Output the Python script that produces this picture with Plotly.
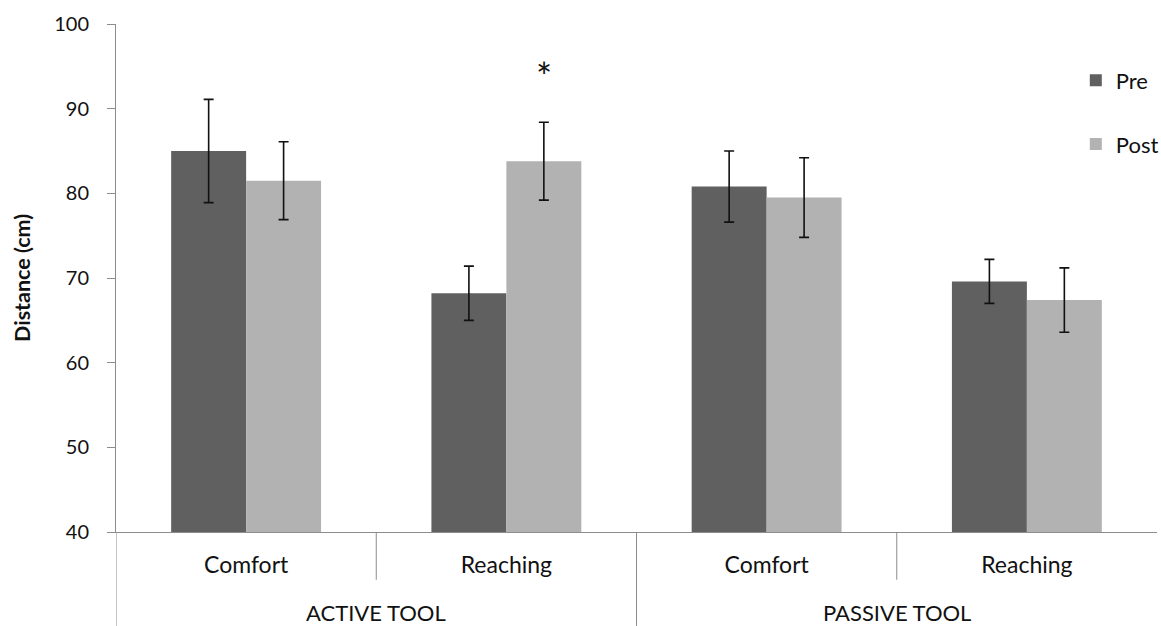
import plotly.graph_objects as go

# Reach / comfort distance by tool condition, before and after tool use
groups = ["ACTIVE TOOL", "PASSIVE TOOL"]
tasks = ["Comfort", "Reaching", "Comfort", "Reaching"]
pre_mean = [85.0, 68.2, 80.8, 69.6]
pre_err = [6.1, 3.2, 4.2, 2.6]
post_mean = [81.5, 83.8, 79.5, 67.4]
post_err = [4.6, 4.6, 4.7, 3.8]
y_ticks = [40, 50, 60, 70, 80, 90, 100]

FONT = "Lato"
TXT = "#111111"
AXIS = "#8c8c8c"
BARGAP = 0.424

xpos = list(range(len(tasks)))

fig = go.Figure()
fig.add_trace(go.Bar(
    name="Pre", x=xpos, y=pre_mean, legendgroup="pre",
    marker=dict(color="#606060", line=dict(width=0)),
    error_y=dict(type="data", array=pre_err, visible=True,
                 color="#111111", thickness=1.6, width=5),
))
fig.add_trace(go.Bar(
    name="Post", x=xpos, y=post_mean, legendgroup="post",
    marker=dict(color="#b2b2b2", line=dict(width=0)),
    error_y=dict(type="data", array=post_err, visible=True,
                 color="#111111", thickness=1.6, width=5),
))

# dividers below the category axis
shapes = []
for i in range(len(tasks) - 1):
    xb = i + 0.5
    full = (i + 1) % 2 == 0
    shapes.append(dict(type="line", xref="x", yref="paper", x0=xb, x1=xb,
                       y0=0, y1=-0.185 if full else -0.094,
                       line=dict(color=AXIS, width=1)))
shapes.append(dict(type="line", xref="x", yref="paper", x0=-0.5, x1=-0.5,
                   y0=0, y1=-0.185, line=dict(color=AXIS, width=1)))

annotations = []
for g, name in enumerate(groups):
    annotations.append(dict(text=name, x=2 * g + 0.5, xref="x", y=0, yref="paper",
                            yshift=-80, showarrow=False, yanchor="middle",
                            font=dict(family=FONT, size=22, color=TXT)))

# significance marker over the active-tool reaching post bar
sig = 1
annotations.append(dict(text="*", x=sig + (1 - BARGAP) / 4, xref="x",
                        y=post_mean[sig] + post_err[sig] + 5.4, yref="y",
                        showarrow=False, yanchor="middle",
                        font=dict(family=FONT, size=38, color=TXT)))

annotations.append(dict(text="<b>Distance (cm)</b>", textangle=-90,
                        x=-0.0903, xref="paper", y=0.5, yref="paper",
                        showarrow=False, xanchor="center", yanchor="middle",
                        font=dict(family=FONT, size=21.5, color=TXT)))

fig.update_layout(
    width=1161, height=626,
    margin=dict(l=116, r=4, t=24, b=94, autoexpand=False),
    paper_bgcolor="white", plot_bgcolor="white",
    barmode="group", bargap=BARGAP, bargroupgap=0,
    font=dict(family=FONT, size=22, color=TXT),
    showlegend=True,
    legend=dict(x=0.922, y=0.93, xanchor="left", yanchor="top",
                traceorder="grouped", tracegroupgap=32,
                font=dict(family=FONT, size=22, color=TXT),
                bgcolor="rgba(0,0,0,0)"),
    shapes=shapes, annotations=annotations,
    xaxis=dict(range=[-0.5, 3.5], tickvals=xpos, ticktext=tasks,
               showline=True, linecolor=AXIS, linewidth=1,
               ticks="", showgrid=False, zeroline=False,
               ticklabelstandoff=12, fixedrange=True,
               tickfont=dict(family=FONT, size=23, color=TXT)),
    yaxis=dict(range=[40, 100], tickvals=y_ticks,
               showline=True, linecolor=AXIS, linewidth=1,
               ticks="outside", ticklen=8, tickcolor=AXIS, tickwidth=1,
               showgrid=False, zeroline=False, ticklabelstandoff=14,
               tickfont=dict(family=FONT, size=20, color=TXT), fixedrange=True),
)

fig.write_html("out.html")
